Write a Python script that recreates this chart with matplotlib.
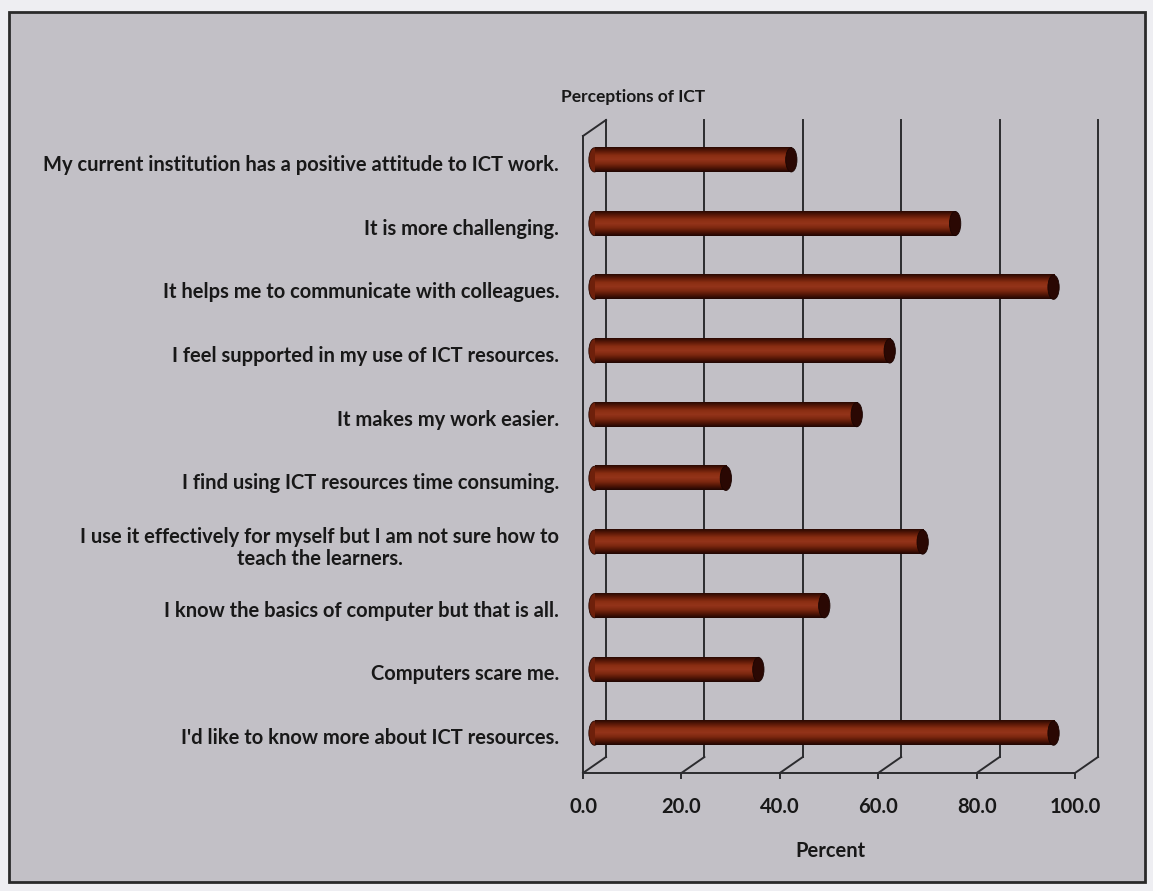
import numpy as np
import matplotlib
matplotlib.use('Agg')
import matplotlib.pyplot as plt
from matplotlib.patches import Ellipse, Rectangle
from matplotlib.lines import Line2D
from matplotlib.colors import LinearSegmentedColormap
from matplotlib.transforms import ScaledTranslation, IdentityTransform

# data (top to bottom as in the chart)
labels = [
    "My current institution has a positive attitude to ICT work.",
    "It is more challenging.",
    "It helps me to communicate with colleagues.",
    "I feel supported in my use of ICT resources.",
    "It makes my work easier.",
    "I find using ICT resources time consuming.",
    "I use it effectively for myself but I am not sure how to\nteach the learners.",
    "I know the basics of computer but that is all.",
    "Computers scare me.",
    "I'd like to know more about ICT resources.",
]
percent = [40.0, 73.3, 93.3, 60.0, 53.3, 26.7, 66.7, 46.7, 33.3, 93.3]
xticks = [0, 20, 40, 60, 80, 100]
xticklabels = ['0.0', '20.0', '40.0', '60.0', '80.0', '100.0']

plt.rcParams['font.family'] = ['Lato', 'DejaVu Sans']

W, H = 1153, 891
bg = '#c2c0c6'
line_c = '#2b2b2e'
txt_c = '#181818'

fig = plt.figure(figsize=(W / 100, H / 100), dpi=100)
fig.patch.set_facecolor('#eeeef2')
fig.patches.append(Rectangle((9 / W, 1 - 882 / H), (1145 - 9) / W, (882 - 12) / H,
                             transform=fig.transFigure, facecolor=bg,
                             edgecolor='#2a2a2a', lw=2, zorder=-5))

# axes = middle depth plane of the 3d plot
ax = fig.add_axes([594.5 / W, 1 - 765 / H, 492 / W, 637 / H])
ax.set_facecolor('none')
for s in ax.spines.values():
    s.set_visible(False)
ax.set_xlim(0, 100)
ax.set_ylim(9.5, -0.5)

# oblique depth offset (inches)
dx, dy = 0.115, 0.08
back = ax.transData + ScaledTranslation(dx, dy, fig.dpi_scale_trans)
front = ax.transData + ScaledTranslation(-dx, -dy, fig.dpi_scale_trans)
px, py = dx * 100, dy * 100

# back wall gridlines
for t in xticks:
    ax.plot([t, t], [9.5, -0.5], transform=back, color=line_c, lw=1.4,
            clip_on=False, zorder=1)
# left wall front edge + floor front edge
ax.plot([0, 0], [9.5, -0.5], transform=front, color=line_c, lw=1.4, clip_on=False, zorder=1)
ax.plot([0, 100], [9.5, 9.5], transform=front, color=line_c, lw=1.4, clip_on=False, zorder=1)


def depth_line(x, y):
    p = ax.transData.transform((x, y))
    fig.add_artist(Line2D([p[0] - px, p[0] + px], [p[1] - py, p[1] + py],
                          transform=IdentityTransform(), color=line_c, lw=1.4, zorder=1))


for t in xticks:
    depth_line(t, 9.5)
    p = ax.transData.transform((t, 9.5))
    fig.add_artist(Line2D([p[0] - px, p[0] - px], [p[1] - py, p[1] - py - 5],
                          transform=IdentityTransform(), color=line_c, lw=1.4, zorder=1))
depth_line(0, -0.5)

# cylinder bars
cyl = LinearSegmentedColormap.from_list('cyl', ['#2a0902', '#5e1a08', '#8a2e12',
                                                '#94341a', '#7e2810', '#521606', '#200602'])
grad = np.linspace(0, 1, 64).reshape(-1, 1)
bh = 0.38
cap_w = 2.3
for i, v in enumerate(percent):
    ax.add_patch(Ellipse((0, i), cap_w, bh, facecolor='#6e200b', edgecolor='#2a0902',
                         lw=0.6, zorder=3, clip_on=False))
    ax.imshow(grad, cmap=cyl, extent=[0, v, i + bh / 2, i - bh / 2], aspect='auto',
              interpolation='bilinear', zorder=4)
    ax.add_patch(Ellipse((v, i), cap_w, bh, facecolor='#2a0803', edgecolor='#1a0502',
                         lw=0.6, zorder=5, clip_on=False))
ax.set_xlim(0, 100)
ax.set_ylim(9.5, -0.5)

# tick labels
ax.set_xticks(xticks)
ax.set_xticklabels(xticklabels, fontsize=14.5, fontweight='bold', color=txt_c)
ax.tick_params(axis='x', length=0, pad=23)
for lab in ax.get_xticklabels():
    lab.set_transform(lab.get_transform() + ScaledTranslation(-dx, 0, fig.dpi_scale_trans))

ax.set_yticks(range(len(labels)))
ax.set_yticklabels(labels, fontsize=14.5, fontweight='bold', color=txt_c,
                   multialignment='center', linespacing=1.1)
ax.tick_params(axis='y', length=0, pad=25.5)
for lab in ax.get_yticklabels():
    lab.set_transform(lab.get_transform() + ScaledTranslation(0, -0.03, fig.dpi_scale_trans))

fig.text(633 / W, 1 - 97 / H, 'Perceptions of ICT', ha='center', va='center',
         fontsize=12.5, fontweight='bold', color=txt_c)
fig.text(830 / W, 1 - 851 / H, 'Percent', ha='center', va='center',
         fontsize=14.5, fontweight='bold', color=txt_c)

fig.savefig('out.png', dpi=100, facecolor=fig.get_facecolor())
